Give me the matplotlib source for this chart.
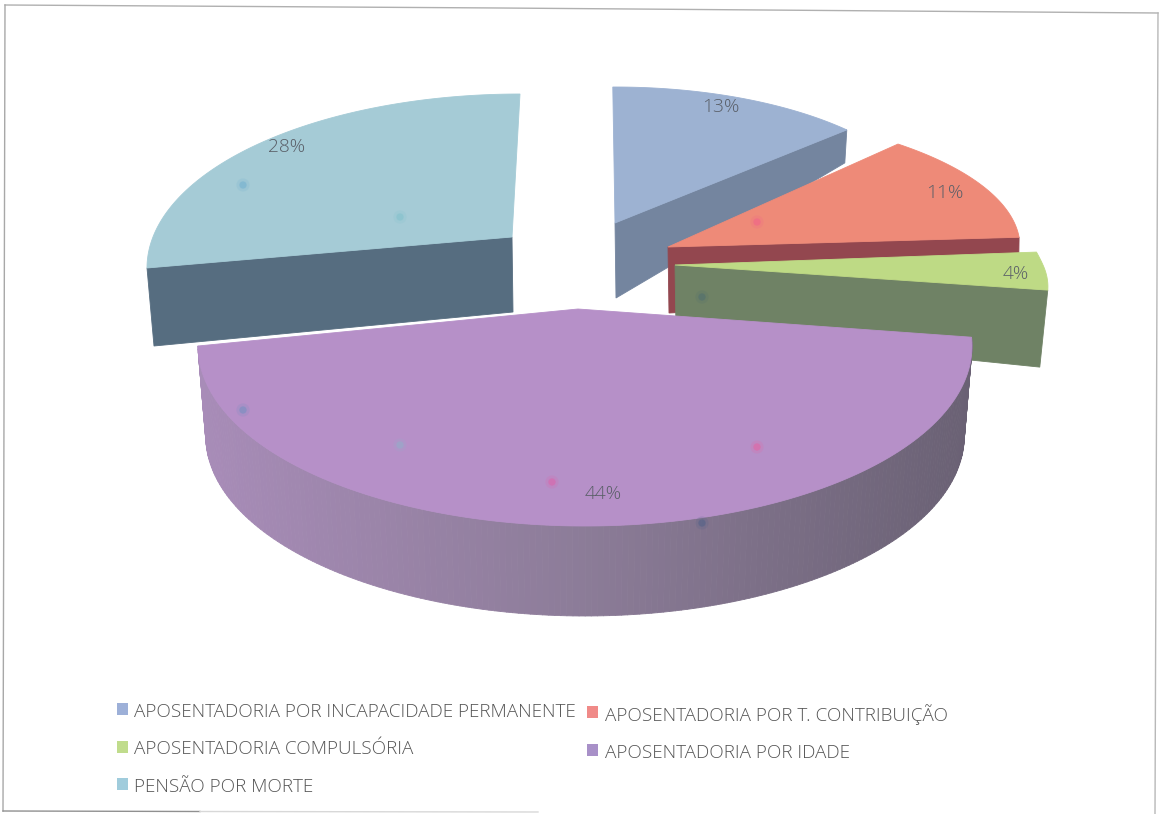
import numpy as np
import matplotlib
matplotlib.use("Agg")
import matplotlib.pyplot as plt
from matplotlib.collections import PolyCollection
from matplotlib.colors import to_rgb
from matplotlib.patches import Polygon, Rectangle

plt.rcParams['font.family'] = ['Open Sans', 'DejaVu Sans']

categories = ["APOSENTADORIA POR INCAPACIDADE PERMANENTE",
              "APOSENTADORIA POR T. CONTRIBUIÇÃO",
              "APOSENTADORIA COMPULSÓRIA",
              "APOSENTADORIA POR IDADE",
              "PENSÃO POR MORTE"]
values = [13, 11, 4, 44, 28]

top_colors = ["#9DB2D2", "#EE8A78", "#BEDA85", "#B690C8", "#A5CBD6"]
wall_colors = ["#74859F", "#93474F", "#6F8265", None, "#566D80"]
legend_colors = ["#9DB0D8", "#F08A88", "#C0DC8C", "#A890C8", "#A0CCDC"]

# per-slice drawing geometry: apex (ax_, ay_), ellipse centre (ex, ey), radii, shear, angle nudges
geom = [
    dict(ax_=615, ay_=223, ex=615, ey=223, a=318, bb=136, bf=136, shear=0.0, ds=-0.4, de=0.0),
    dict(ax_=668, ay_=247, ex=668, ey=247, a=352, bb=136, bf=136, shear=0.0, ds=-6.0, de=-0.5),
    dict(ax_=675, ay_=265, ex=675, ey=265, a=368, bb=206, bf=134, shear=0.45, ds=0.0, de=0.0),
    dict(ax_=578, ay_=309, ex=585, ey=346, a=387, bb=180, bf=180, shear=0.0, ds=-13.6, de=10.8),
    dict(ax_=512, ay_=237, ex=520, ey=268, a=373, bb=174, bf=174, shear=0.0, ds=10.8, de=0.0),
]
# visible radial wall: thickness at apex, thickness at rim, horizontal drift at rim
walls = [(75, 33, -2), (66, 60, -1), (65, 77, -8), None, (75, 78, 7)]
wall_side = ["end", "end", "end", None, "start"]

label_pos = [(721, 107), (945, 193), (1016, 274), (603, 494), (287, 147)]

swatch_x = [117, 587, 117, 587, 117]
swatch_y = [709, 712, 747, 750, 784]
text_x = [134, 605, 134, 605, 134]
text_y = [712, 715, 749, 753, 787]

spot_x = [243, 400, 757, 702, 243, 400, 552, 757, 702]
spot_y = [185, 217, 222, 297, 410, 445, 482, 447, 523]
spot_c = ["#6FAFD0", "#7FC0CC", "#F0608C", "#4F6E70", "#6F8FC0", "#90B0C8", "#E060A8", "#E860A0", "#4F6088"]

fig = plt.figure(figsize=(11.61, 8.14), dpi=100, facecolor="white")
ax = fig.add_axes([0, 0, 1, 1])
ax.set_xlim(0, 1161)
ax.set_ylim(814, 0)
ax.axis("off")


def rim(g, th):
    """Rim point of a slice, th in degrees clockwise from the top."""
    t = np.radians(th)
    s, c = np.sin(t), np.cos(t)
    b = np.where(c > 0, g["bb"], g["bf"])
    dy = -b * c
    dx = g["a"] * s
    return g["ex"] + dx + g["shear"] * dy, g["ey"] + dy


bounds = np.concatenate([[0], np.cumsum(values)]) * 3.6

for i in [0, 1, 2, 4, 3]:
    g = geom[i]
    th = np.linspace(bounds[i] + g["ds"], bounds[i + 1] + g["de"], 200)
    x, y = rim(g, th)
    if i == 3:
        # rounded outer wall of the large slice, shaded from left to right
        xb = g["ex"] + (x - g["ex"]) * 0.98
        yb = y + 90
        quads, cols = [], []
        left = np.array(to_rgb("#A88CB8"))
        mid = np.array(to_rgb("#8C7C98"))
        right = np.array(to_rgb("#6A6174"))
        for k in range(len(th) - 1):
            quads.append([(x[k], y[k]), (x[k + 1], y[k + 1]), (xb[k + 1], yb[k + 1]), (xb[k], yb[k])])
            f = (x[k] - g["ex"]) / g["a"]
            cols.append(mid + (right - mid) * f if f > 0 else mid + (left - mid) * (-f))
        ax.add_collection(PolyCollection(quads, facecolors=cols, edgecolors=cols, linewidths=0.6))
    else:
        j = -1 if wall_side[i] == "end" else 0
        t0, t1, drift = walls[i]
        ax.add_patch(Polygon([(g["ax_"], g["ay_"]), (x[j], y[j]),
                              (x[j] + drift, y[j] + t1), (g["ax_"] + 1, g["ay_"] + t0)],
                             closed=True, facecolor=wall_colors[i], edgecolor=wall_colors[i], lw=0.6))
    ax.add_patch(Polygon(np.column_stack([np.r_[g["ax_"], x], np.r_[g["ay_"], y]]),
                         closed=True, facecolor=top_colors[i], edgecolor=top_colors[i], lw=0.6))

for v, (px, py) in zip(values, label_pos):
    ax.text(px, py, f"{v}%", ha="center", va="center", fontsize=13.8, color="#5A5F68", fontweight="light")

ax.scatter(spot_x, spot_y, s=90, c=spot_c, alpha=0.18, linewidths=0, zorder=3)
ax.scatter(spot_x, spot_y, s=28, c=spot_c, alpha=0.5, linewidths=0, zorder=3)

for name, col, sx, sy, tx, ty in zip(categories, legend_colors, swatch_x, swatch_y, text_x, text_y):
    ax.add_patch(Rectangle((sx, sy - 6), 11, 12, facecolor=col, edgecolor="none"))
    ax.text(tx, ty, name, ha="left", va="center", fontsize=13.55, color="#555555", fontweight="light")

# scanned page frame
ax.plot([5, 500, 1158], [5, 8, 13], color="#B0B0B0", lw=1)
ax.plot([1158, 1155], [13, 814], color="#B8B8B8", lw=1)
ax.plot([5, 3], [5, 811], color="#A8A8A8", lw=1)
ax.plot([3, 200], [811, 811.5], color="#909090", lw=1)
ax.plot([200, 538], [811.5, 812], color="#D8D8D8", lw=1)

fig.savefig("out.png", dpi=100)
